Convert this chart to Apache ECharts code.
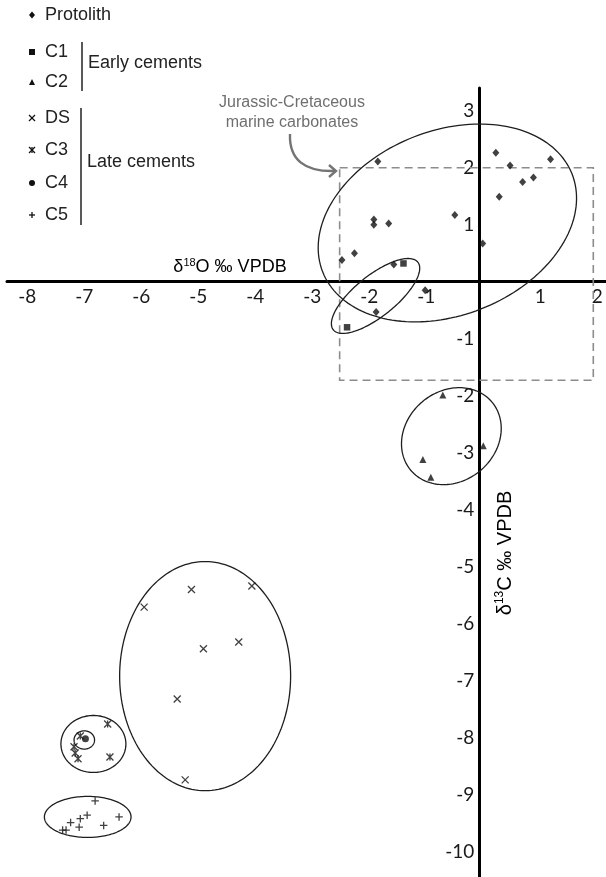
<!DOCTYPE html>
<html>
<head>
<meta charset="utf-8">
<script src="https://cdn.jsdelivr.net/npm/echarts@6/dist/echarts.min.js"></script>
<style>
  html, body { margin: 0; padding: 0; background: #fff; }
  #chart { width: 606px; height: 877px; }
</style>
</head>
<body>
<div id="chart"></div>
<script>
// δ18O, δ13C pairs (‰ VPDB) for each sample group
const protolith = [[-1.78, 2.11], [0.29, 2.26], [0.54, 2.04], [1.25, 2.15], [0.95, 1.83], [0.76, 1.75],
  [0.35, 1.49], [-0.43, 1.17], [-1.85, 1.09], [-1.85, 1.00], [-1.59, 1.02], [0.06, 0.67],
  [-2.19, 0.50], [-2.41, 0.38], [-1.50, 0.30], [-0.95, -0.15], [-1.81, -0.53]];
const c1 = [[-1.33, 0.32], [-2.32, -0.80]];
const c2 = [[-0.64, -1.99], [0.07, -2.88], [-0.99, -3.12], [-0.85, -3.43]];
const ds = [[-5.05, -5.40], [-3.99, -5.34], [-5.88, -5.71], [-4.22, -6.32], [-4.84, -6.44],
  [-5.30, -7.32], [-5.16, -8.74]];
const c3 = [[-6.52, -7.76], [-7.00, -7.97], [-7.11, -8.16], [-7.09, -8.27], [-7.04, -8.37], [-6.48, -8.34]];
const c4 = [[-6.91, -8.02]];
const c5 = [[-6.74, -9.11], [-6.88, -9.36], [-7.00, -9.42], [-7.17, -9.49], [-7.02, -9.57],
  [-6.59, -9.54], [-6.32, -9.39], [-7.31, -9.62], [-7.25, -9.62]];

// Group envelopes: centre x, centre y, semi-axis a, semi-axis b, tilt in degrees
const envelopes = [
  [-0.56, 1.03, 2.35, 1.62, 21.4],
  [-1.82, -0.25, 0.95, 0.36, 38.7],
  [-0.49, -2.71, 0.93, 0.79, 40],
  [-4.81, -6.92, 1.50, 2.01, 0],
  [-6.77, -8.11, 0.57, 0.50, 0],
  [-6.93, -8.04, 0.18, 0.16, 0],
  [-6.87, -9.39, 0.76, 0.36, 0]
];

// Jurassic-Cretaceous marine carbonate field: xmin, ymin, xmax, ymax
const marineField = [[-2.45, -1.73, 2.0, 2.0]];

const xTicks = [-8, -7, -6, -5, -4, -3, -2, -1, 1, 2];
const yTicks = [3, 2, 1, -1, -2, -3, -4, -5, -6, -7, -8, -9, -10];

// plotted window (‰)
const X_MIN = -8.286, X_MAX = 2.223;
const Y_MIN = -10.444, Y_MAX = 3.398;

const INK = '#111';
const NUM_FONT = 'Lato, sans-serif';
const TXT_FONT = '"Liberation Sans", Arial, sans-serif';

const GRID = { left: 7, right: 0, top: 88, bottom: 0 };
const W = 606, H = 877;
const gridW = W - GRID.left - GRID.right;
const gridH = H - GRID.top - GRID.bottom;
// axes cross at the origin: shift each axis line from the grid edge onto zero
const xAxisOffset = -gridH * (0 - Y_MIN) / (Y_MAX - Y_MIN);
const yAxisOffset = -gridW * (0 - X_MIN) / (X_MAX - X_MIN);

const PATHS = {
  cross: 'M0,0L10,10M10,0L0,10',
  star: 'M0,0L10,10M10,0L0,10M5,0L5,10',
  plus: 'M5,0L5,10M0,5L10,5'
};
// the same glyphs as unit segments, for the key
const SEGS = {
  cross: [[0, 0, 1, 1], [1, 0, 0, 1]],
  star: [[0, 0, 1, 1], [1, 0, 0, 1], [0.5, 0, 0.5, 1]],
  plus: [[0.5, 0, 0.5, 1], [0, 0.5, 1, 0.5]]
};

const chart = echarts.init(document.getElementById('chart'), null, { renderer: 'canvas' });

function envelopeShape(params, api) {
  const cx = api.value(0), cy = api.value(1), a = api.value(2), b = api.value(3);
  const t = api.value(4) * Math.PI / 180;
  const pts = [];
  const n = 160;
  for (let i = 0; i < n; i++) {
    const u = i / n * 2 * Math.PI;
    const ex = a * Math.cos(u), ey = b * Math.sin(u);
    pts.push(api.coord([cx + ex * Math.cos(t) - ey * Math.sin(t), cy + ex * Math.sin(t) + ey * Math.cos(t)]));
  }
  return { type: 'polygon', shape: { points: pts }, style: { fill: 'none', stroke: '#1e1e1e', lineWidth: 1.3 }, silent: true };
}

function fieldShape(params, api) {
  const p1 = api.coord([api.value(0), api.value(3)]);
  const p2 = api.coord([api.value(2), api.value(1)]);
  return {
    type: 'rect',
    shape: { x: p1[0], y: p1[1], width: p2[0] - p1[0], height: p2[1] - p1[1] },
    style: { fill: 'none', stroke: '#8c8c8c', lineWidth: 1.6, lineDash: [8, 5] },
    silent: true
  };
}

function filled(name, data, symbol, size) {
  return { name, type: 'scatter', data, symbol, symbolSize: size, z: 5, silent: true,
    itemStyle: { color: INK } };
}
function stroked(name, data, key, size) {
  return { name, type: 'scatter', data, symbol: 'path://' + PATHS[key], symbolSize: size, z: 5, silent: true,
    itemStyle: { color: 'rgba(0,0,0,0)', borderColor: INK, borderWidth: 1.3 } };
}

// key rows: label, marker kind, row centre
const legendRows = [
  ['Protolith', 'diamond', 15], ['C1', 'square', 52], ['C2', 'triangle', 82],
  ['DS', 'cross', 118], ['C3', 'star', 150], ['C4', 'circle', 183], ['C5', 'plus', 215]
];

function legendIcon(kind, cx, cy, s) {
  const h = s / 2;
  switch (kind) {
    case 'diamond':
      return [{ type: 'polygon', shape: { points: [[cx, cy - h * 1.15], [cx + h, cy], [cx, cy + h * 1.15], [cx - h, cy]] }, style: { fill: INK } }];
    case 'square':
      return [{ type: 'rect', shape: { x: cx - h, y: cy - h, width: s, height: s }, style: { fill: INK } }];
    case 'triangle':
      return [{ type: 'polygon', shape: { points: [[cx, cy - h], [cx + h, cy + h], [cx - h, cy + h]] }, style: { fill: INK } }];
    case 'circle':
      return [{ type: 'circle', shape: { cx: cx, cy: cy, r: h }, style: { fill: INK } }];
    default:
      return SEGS[kind].map(function (g) {
        return { type: 'line', shape: { x1: cx - h + g[0] * s, y1: cy - h + g[1] * s, x2: cx - h + g[2] * s, y2: cy - h + g[3] * s },
          style: { stroke: INK, lineWidth: 1.3 } };
      });
  }
}

const graphics = [];
legendRows.forEach(function (r) {
  legendIcon(r[1], 32, r[2], 6).forEach(function (el) { graphics.push(el); });
  graphics.push({ type: 'text', x: 45, y: r[2], style: { text: r[0], font: '18px ' + TXT_FONT, fill: '#222', verticalAlign: 'middle' } });
});
// group brackets
graphics.push({ type: 'line', shape: { x1: 82, y1: 42, x2: 82, y2: 91 }, style: { stroke: '#222', lineWidth: 1.5 } });
graphics.push({ type: 'text', x: 88, y: 63, style: { text: 'Early cements', font: '18px ' + TXT_FONT, fill: '#222', verticalAlign: 'middle' } });
graphics.push({ type: 'line', shape: { x1: 81, y1: 108, x2: 81, y2: 225 }, style: { stroke: '#222', lineWidth: 1.5 } });
graphics.push({ type: 'text', x: 87, y: 162, style: { text: 'Late cements', font: '18px ' + TXT_FONT, fill: '#222', verticalAlign: 'middle' } });

// axis titles
function titleRich(size) {
  return {
    a: { fontSize: size, fontFamily: TXT_FONT, color: '#1a1a1a', lineHeight: size + 2 },
    s: { fontSize: Math.round(size * 0.62), fontFamily: TXT_FONT, color: '#1a1a1a', lineHeight: Math.round(size * 0.66), verticalAlign: 'top' }
  };
}
graphics.push({ type: 'text', x: 230, y: 267, style: { text: '{a|δ}{s|18}{a|O ‰ VPDB}', rich: titleRich(18), align: 'center', verticalAlign: 'middle' } });
graphics.push({ type: 'text', x: 505, y: 553, rotation: Math.PI / 2,
  style: { text: '{a|δ}{s|13}{a|C ‰ VPDB}', rich: titleRich(20), align: 'center', verticalAlign: 'middle' } });

// field annotation and pointer
graphics.push({ type: 'text', x: 292, y: 103, style: { text: 'Jurassic-Cretaceous', font: '16px ' + TXT_FONT, fill: '#6f6f6f', align: 'center', verticalAlign: 'middle' } });
graphics.push({ type: 'text', x: 292, y: 123, style: { text: 'marine carbonates', font: '16px ' + TXT_FONT, fill: '#6f6f6f', align: 'center', verticalAlign: 'middle' } });
graphics.push({ type: 'bezierCurve', shape: { x1: 290, y1: 134, cpx1: 289, cpy1: 160, cpx2: 305, cpy2: 172, x2: 335, y2: 171 },
  style: { stroke: '#747474', lineWidth: 2.4, fill: null } });
graphics.push({ type: 'polyline', shape: { points: [[329, 165], [336, 171], [329, 177]] },
  style: { stroke: '#747474', lineWidth: 2.4, fill: null } });

const option = {
  animation: false,
  backgroundColor: '#fff',
  grid: { left: GRID.left, right: GRID.right, top: GRID.top, bottom: GRID.bottom, containLabel: false, outerBoundsMode: 'none' },
  xAxis: {
    type: 'value', min: X_MIN, max: X_MAX, position: 'bottom', offset: xAxisOffset,
    axisLine: { onZero: false, lineStyle: { color: '#000', width: 3 } },
    axisTick: { show: false },
    splitLine: { show: false },
    axisLabel: { customValues: xTicks, margin: 6, fontFamily: NUM_FONT, fontSize: 19, color: '#1a1a1a', padding: [0, 0, 0, 8] }
  },
  yAxis: {
    type: 'value', min: Y_MIN, max: Y_MAX, position: 'left', offset: yAxisOffset,
    axisLine: { onZero: false, lineStyle: { color: '#000', width: 3 } },
    axisTick: { show: false },
    splitLine: { show: false },
    axisLabel: { customValues: yTicks, margin: 5, fontFamily: NUM_FONT, fontSize: 19, color: '#1a1a1a', padding: [0, 0, 6, 0] }
  },
  series: [
    { type: 'custom', data: marineField, renderItem: fieldShape, encode: { x: [0, 2], y: [1, 3] }, z: 1, silent: true, clip: false },
    { type: 'custom', data: envelopes, renderItem: envelopeShape, encode: { x: 0, y: 1 }, z: 2, silent: true, clip: false },
    filled('Protolith', protolith, 'diamond', [7, 8]),
    filled('C1', c1, 'rect', 6.5),
    filled('C2', c2, 'triangle', 7),
    stroked('DS', ds, 'cross', 7),
    stroked('C3', c3, 'star', 7),
    filled('C4', c4, 'circle', 7),
    stroked('C5', c5, 'plus', 7.5)
  ],
  graphic: { elements: graphics }
};

chart.setOption(option);
</script>
</body>
</html>
